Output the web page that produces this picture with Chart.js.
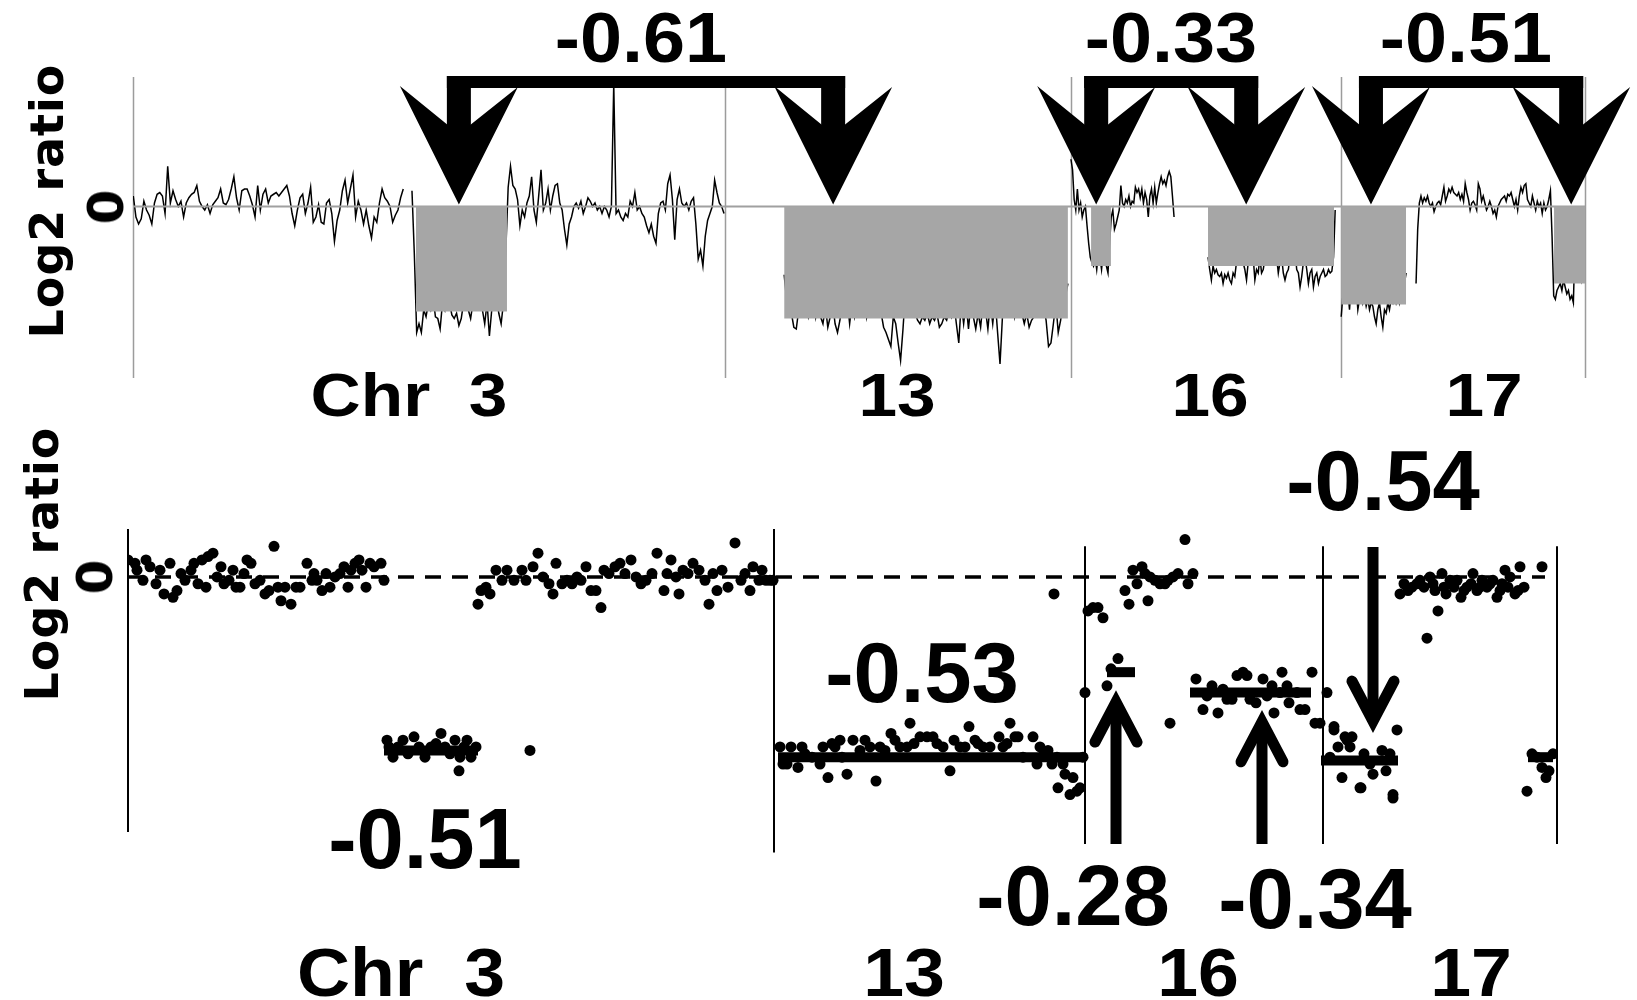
<!DOCTYPE html>
<html>
<head>
<meta charset="utf-8">
<script src="https://cdn.jsdelivr.net/npm/chart.js@4.4.1/dist/chart.umd.min.js"></script>
<style>
  html, body { margin: 0; padding: 0; background: #fff; }
  #page { position: relative; width: 1637px; height: 1000px; overflow: hidden; }
  .box { position: absolute; left: 0; width: 1637px; height: 400px; }
  .lbl {
    position: absolute; color: #000; line-height: 1; white-space: pre;
    font-family: "Liberation Sans", Arial, sans-serif; font-weight: bold;
  }
  .ylab {
    position: absolute; color: #000; line-height: 1; white-space: pre;
    font-family: "DejaVu Sans", Verdana, sans-serif; font-weight: bold;
    transform: translate(-50%, -50%) rotate(-90deg);
  }
</style>
</head>
<body>
<div id="page">
  <div class="box" style="top:0"><canvas id="topChart" width="1637" height="400"></canvas></div>
  <div class="box" style="top:480px"><canvas id="bottomChart" width="1637" height="400"></canvas></div>
</div>

<script>
/* global Chart */

// ---- top panel: smoothed array profile (x in Mb, cumulative) ----
const chrNames = ["Chr  3", "13", "16", "17"];
const topChrBounds = [0, 197, 312, 402, 483];

// continuous pieces of the profile: [start Mb, end Mb]
const chr3pRange = [0.1, 89.9];
const chr3qRange = [92.8, 196.6];
const chr13Range = [216.6, 311.0];
const chr16pRange = [312.0, 346.3];
const chr16qRange = [357.6, 399.9];
const chr17pRange = [401.9, 423.5];
const chr17qRange = [426.8, 482.4];

const chr3pRatios = [0.06,-0.06,-0.10,-0.07,0.03,-0.02,-0.05,-0.10,0.02,0.07,0.08,0.06,-0.04,0.23,0.02,0.09,0.04,0.00,0.03,-0.06,
  0.02,0.05,0.07,0.08,0.12,0.03,0.00,-0.02,0.01,-0.04,0.01,0.03,0.05,0.10,0.02,0.01,0.04,0.10,0.17,0.05,
  -0.02,0.09,0.10,0.10,0.06,0.01,-0.06,0.12,-0.02,0.07,0.10,0.02,0.06,0.07,0.08,0.06,0.08,0.10,0.12,0.06,
  -0.04,-0.11,-0.02,0.05,0.07,-0.04,0.02,0.11,-0.09,-0.06,0.01,-0.09,-0.10,0.02,0.04,-0.04,-0.20,-0.08,-0.02,0.09,
  0.15,0.02,0.10,0.18,-0.06,0.03,-0.02,-0.10,-0.02,-0.11,-0.18,-0.06,-0.09,0.02,0.10,0.05,0.03,0.00,-0.09,-0.05,-0.02,0.05,0.10];

const chr3qRatios = [0.09,-0.27,-0.72,-0.67,-0.72,-0.59,-0.63,-0.55,-0.59,-0.52,-0.63,-0.64,-0.70,-0.55,-0.59,-0.48,-0.55,-0.62,-0.64,-0.61,
  -0.68,-0.64,-0.55,-0.48,-0.59,-0.64,-0.55,-0.55,-0.47,-0.55,-0.59,-0.67,-0.55,-0.74,-0.59,-0.53,-0.51,-0.61,-0.67,-0.55,
  -0.25,0.11,0.23,0.12,0.10,0.04,-0.11,-0.02,-0.06,0.02,0.06,0.17,-0.02,-0.09,0.06,0.21,-0.02,0.02,0.10,-0.02,
  0.06,0.12,0.13,0.02,-0.02,-0.13,-0.22,-0.10,-0.06,0.00,0.02,-0.01,0.03,-0.04,0.00,0.05,0.03,0.00,0.02,-0.02,
  0.00,-0.04,0.00,-0.02,-0.06,0.00,0.70,-0.04,-0.02,-0.06,-0.08,-0.04,-0.06,0.03,0.00,0.08,-0.02,0.00,-0.04,-0.06,
  -0.11,-0.15,-0.10,-0.17,-0.21,-0.04,0.02,0.03,-0.02,0.13,0.18,0.04,-0.19,0.04,0.10,0.02,0.00,0.02,-0.02,0.03,
  0.05,-0.10,-0.30,-0.25,-0.34,-0.17,-0.08,-0.04,0.00,0.15,0.08,0.02,0.00,-0.04];

const chr13Ratios = [-0.39,-0.53,-0.55,-0.61,-0.69,-0.70,-0.59,-0.57,-0.59,-0.55,-0.63,-0.57,-0.53,-0.63,-0.53,-0.63,-0.67,-0.57,-0.69,-0.63,
  -0.55,-0.67,-0.72,-0.65,-0.55,-0.57,-0.53,-0.67,-0.55,-0.63,-0.55,-0.61,-0.55,-0.53,-0.63,-0.53,-0.55,-0.51,-0.59,-0.57,
  -0.61,-0.69,-0.72,-0.76,-0.80,-0.63,-0.67,-0.78,-0.88,-0.70,-0.49,-0.57,-0.55,-0.59,-0.61,-0.65,-0.67,-0.63,-0.65,-0.61,
  -0.67,-0.63,-0.65,-0.61,-0.69,-0.67,-0.63,-0.65,-0.59,-0.63,-0.55,-0.67,-0.78,-0.55,-0.67,-0.55,-0.70,-0.55,-0.63,-0.70,
  -0.61,-0.69,-0.55,-0.59,-0.70,-0.55,-0.67,-0.53,-0.72,-0.90,-0.63,-0.55,-0.53,-0.59,-0.55,-0.63,-0.53,-0.55,-0.61,-0.67,
  -0.61,-0.69,-0.65,-0.63,-0.55,-0.49,-0.53,-0.57,-0.65,-0.80,-0.78,-0.67,-0.55,-0.72,-0.65,-0.55,-0.51,-0.44];

const chr16pRatios = [0.27,0.21,0.04,-0.02,0.10,-0.02,0.02,-0.06,-0.02,0.00,-0.11,-0.21,-0.29,-0.32,-0.34,-0.29,-0.36,-0.27,-0.29,-0.36,
  -0.27,-0.30,-0.34,-0.38,-0.21,-0.06,-0.02,-0.13,-0.10,-0.06,-0.02,0.12,0.02,0.00,0.04,0.02,0.06,0.00,0.03,0.02,
  0.11,0.08,0.10,0.05,0.10,0.02,0.08,0.04,-0.06,0.06,0.10,0.02,0.11,0.02,0.08,0.13,0.17,0.13,0.15,0.12,
  0.17,0.20,0.17,0.06,-0.06];

const chr16qRatios = [-0.29,-0.36,-0.42,-0.34,-0.38,-0.36,-0.39,-0.40,-0.38,-0.44,-0.39,-0.41,-0.38,-0.42,-0.44,-0.38,-0.40,-0.32,-0.29,-0.30,
  -0.26,-0.32,-0.36,-0.42,-0.32,-0.27,-0.17,-0.29,-0.42,-0.36,-0.38,-0.29,-0.38,-0.36,-0.30,-0.25,-0.29,-0.21,-0.23,-0.29,
  -0.23,-0.29,-0.38,-0.32,-0.29,-0.38,-0.42,-0.38,-0.36,-0.29,-0.32,-0.21,-0.25,-0.36,-0.38,-0.46,-0.40,-0.32,-0.29,-0.36,
  -0.44,-0.38,-0.36,-0.46,-0.40,-0.38,-0.44,-0.40,-0.38,-0.36,-0.40,-0.39,-0.36,-0.38,-0.37,-0.29,-0.02];

const chr17pRatios = [-0.63,-0.51,-0.44,-0.53,-0.48,-0.59,-0.44,-0.42,-0.51,-0.46,-0.59,-0.53,-0.48,-0.55,-0.51,-0.57,-0.53,-0.59,-0.55,-0.57,
  -0.63,-0.67,-0.59,-0.55,-0.63,-0.69,-0.59,-0.61,-0.55,-0.59,-0.53,-0.55,-0.50,-0.55,-0.51,-0.55,-0.48,-0.53,-0.44,-0.38];

const chr17qRatios = [-0.44,-0.13,0.02,0.06,0.02,0.05,0.03,0.06,0.02,0.00,0.02,-0.03,0.00,0.02,0.03,0.01,0.06,0.11,0.03,0.06,
  0.10,0.08,0.11,0.08,0.07,0.06,0.08,0.04,0.07,0.03,0.13,0.08,0.04,-0.02,0.02,0.03,0.01,-0.02,0.13,0.10,
  0.03,0.06,0.02,-0.02,0.00,0.03,0.00,-0.04,-0.02,-0.06,0.00,0.02,0.04,0.05,0.06,0.03,0.07,0.06,0.08,0.04,
  0.00,0.04,-0.02,0.06,0.11,0.08,0.12,0.13,0.04,0.02,0.00,0.06,0.02,-0.02,0.03,0.00,0.02,-0.04,0.02,-0.02,
  0.00,0.04,0.09,-0.17,-0.51,-0.53,-0.48,-0.46,-0.44,-0.48,-0.42,-0.46,-0.50,-0.48,-0.53,-0.51,-0.55,-0.21,-0.29,-0.25,
  -0.32,-0.42,-0.38];

// called losses (grey blocks): start Mb, end Mb, mean log2 ratio
const lossStart = [94.1, 216.6, 318.7, 357.6, 401.9, 472.7];
const lossEnd = [124.4, 311.0, 325.3, 399.5, 423.5, 483.0];
const lossLevel = [-0.60, -0.64, -0.34, -0.34, -0.56, -0.44];

// arrow positions (Mb) and bracket labels
const topArrowX = [108.4, 232.9, 320.4, 370.3, 411.8, 478.4];
const topBracketLabels = ["-0.61", "-0.33", "-0.51"];

// ---- bottom panel: individual clones (x = clone position, y = log2 ratio) ----
const bottomChrBounds = [0, 646, 957, 1195, 1429];

const chr3Clones = [[0,0.05],[7,0.04],[9,0.02],[15,-0.01],[18,0.05],[22,0.03],[28,-0.02],[32,0.02],[36,-0.05],[42,0.04],
  [45,-0.06],[49,-0.04],[53,0.01],[57,-0.01],[63,0.02],[66,0.04],[70,-0.02],[74,0.05],[78,-0.03],[80,0.06],
  [85,0.07],[89,0.00],[93,0.03],[96,-0.02],[101,-0.01],[105,0.02],[108,-0.03],[112,-0.03],[116,0.01],[119,0.05],
  [123,0.04],[127,-0.02],[132,-0.01],[137,-0.05],[141,-0.04],[146,0.09],[150,-0.03],[153,-0.07],[157,-0.03],[163,-0.08],
  [168,-0.03],[172,-0.03],[179,0.04],[184,-0.01],[186,0.01],[189,-0.01],[194,-0.04],[198,0.01],[202,-0.03],[207,0.00],
  [212,0.01],[216,0.03],[220,-0.03],[223,0.02],[227,0.04],[231,0.05],[234,0.02],[238,-0.03],[242,0.04],[246,0.03],
  [253,0.04],[256,-0.01],
  [259,-0.48],[261,-0.50],[265,-0.53],[270,-0.50],[275,-0.48],[280,-0.52],[286,-0.47],[291,-0.50],[297,-0.53],[303,-0.50],
  [308,-0.49],[313,-0.46],[317,-0.50],[322,-0.52],[327,-0.48],[331,-0.57],[332,-0.53],[336,-0.50],[339,-0.48],[343,-0.53],
  [348,-0.50],[402,-0.51],
  [350,-0.08],[353,-0.04],[358,-0.03],[362,-0.05],[368,0.02],[374,-0.01],[379,0.02],[386,-0.01],[394,0.02],[398,-0.01],
  [405,0.03],[410,0.07],[415,0.00],[421,-0.02],[425,-0.05],[428,0.04],[434,-0.02],[439,-0.01],[444,-0.02],[449,0.00],
  [453,-0.01],[458,0.03],[463,-0.04],[468,-0.04],[473,-0.09],[476,0.02],[481,0.01],[487,0.03],[492,0.04],[497,0.01],
  [503,0.05],[508,0.00],[513,-0.02],[518,-0.01],[524,0.01],[529,0.07],[536,-0.04],[539,0.01],[543,0.05],[548,0.00],
  [551,-0.05],[555,0.02],[560,0.01],[565,0.04],[571,0.02],[577,-0.01],[581,-0.08],[585,0.01],[589,-0.04],[594,0.02],
  [600,-0.03],[607,0.10],[613,-0.01],[617,0.01],[622,-0.04],[625,0.03],[631,-0.01],[634,0.02],[638,-0.01],[642,-0.01],[645,-0.01]];

const chr13Clones = [[652,-0.50],[655,-0.55],[659,-0.55],[663,-0.50],[670,-0.56],[674,-0.50],[677,-0.52],[684,-0.53],[692,-0.55],[695,-0.50],
  [700,-0.59],[704,-0.49],[707,-0.50],[712,-0.48],[714,-0.53],[719,-0.58],[725,-0.48],[732,-0.51],[737,-0.48],[742,-0.50],
  [748,-0.60],[752,-0.50],[757,-0.51],[763,-0.46],[767,-0.48],[772,-0.50],[779,-0.50],[782,-0.43],[786,-0.49],[792,-0.47],
  [799,-0.47],[805,-0.47],[809,-0.49],[815,-0.50],[822,-0.57],[826,-0.48],[832,-0.50],[837,-0.50],[841,-0.44],[847,-0.48],
  [850,-0.49],[855,-0.50],[862,-0.50],[871,-0.47],[875,-0.50],[879,-0.49],[882,-0.43],[887,-0.47],[890,-0.47],[895,-0.53],
  [905,-0.47],[909,-0.55],[912,-0.50],[916,-0.52],[920,-0.51],[924,-0.55],[926,-0.05],[929,-0.53],[930,-0.62],[935,-0.55],
  [937,-0.58],[942,-0.64],[945,-0.59],[949,-0.63],[952,-0.62],[955,-0.53]];

const chr16Clones = [[957,-0.34],[960,-0.10],[965,-0.09],[970,-0.09],[975,-0.12],[979,-0.32],[983,-0.27],[990,-0.24],[997,-0.04],[1001,-0.08],
  [1005,0.02],[1009,-0.02],[1014,0.03],[1017,0.01],[1020,-0.07],[1022,0.00],[1027,-0.01],[1032,-0.02],[1037,-0.02],[1040,-0.01],
  [1045,0.00],[1050,0.01],[1057,0.11],[1060,-0.02],[1065,0.01],[1042,-0.43],
  [1068,-0.30],[1075,-0.39],[1079,-0.35],[1084,-0.32],[1090,-0.40],[1095,-0.33],[1099,-0.36],[1104,-0.36],[1109,-0.29],[1115,-0.28],
  [1119,-0.29],[1122,-0.36],[1128,-0.37],[1135,-0.30],[1139,-0.35],[1144,-0.32],[1146,-0.40],[1152,-0.34],[1154,-0.28],[1159,-0.32],
  [1161,-0.37],[1169,-0.34],[1172,-0.39],[1177,-0.39],[1184,-0.28],[1187,-0.43],[1192,-0.43]];

const chr17Clones = [[1199,-0.34],[1202,-0.53],[1206,-0.45],[1206,-0.44],[1210,-0.50],[1214,-0.59],[1217,-0.47],[1219,-0.48],[1222,-0.50],[1224,-0.47],
  [1232,-0.62],[1233,-0.62],[1236,-0.52],[1242,-0.55],[1245,-0.58],[1254,-0.51],[1258,-0.57],[1262,-0.52],[1265,-0.64],[1265,-0.65],[1269,-0.45],
  [1272,-0.05],[1276,-0.02],[1280,-0.04],[1284,-0.03],[1289,-0.02],[1292,-0.01],[1296,-0.03],[1299,-0.18],[1302,0.00],[1305,-0.02],
  [1307,-0.04],[1310,-0.10],[1314,0.01],[1316,-0.03],[1318,-0.05],[1322,-0.01],[1326,-0.03],[1329,-0.01],[1333,-0.06],[1336,-0.04],
  [1339,-0.03],[1343,-0.02],[1345,0.01],[1349,-0.04],[1352,-0.03],[1354,-0.01],[1359,-0.03],[1362,-0.02],[1365,-0.01],[1369,-0.06],
  [1372,-0.04],[1374,-0.02],[1377,0.02],[1380,-0.03],[1382,0.00],[1387,-0.05],[1390,-0.04],[1392,0.03],[1396,-0.03],[1414,0.03],
  [1399,-0.63],[1404,-0.52],[1409,-0.53],[1414,-0.56],[1418,-0.59],[1421,-0.57],[1425,-0.52]];

// segmented means: start, end, log2 ratio
const segStart = [256, 650, 979, 1062, 1193, 1400];
const segEnd = [350, 955, 1007, 1183, 1270, 1425];
const segLevel = [-0.51, -0.53, -0.28, -0.34, -0.54, -0.53];

// pointing arrows: x, tail value, tip value
const bottomArrowX = [988, 1134, 1245];
const bottomArrowFrom = [-0.785, -0.785, 0.088];
const bottomArrowTo = [-0.368, -0.426, -0.424];

// spread a piece of probes evenly between its start and end
function piece(range, values) {
  const step = (range[1] - range[0]) / (values.length - 1);
  return values.map((v, i) => ({ x: range[0] + i * step, y: v }));
}

function withGaps(pieces) {
  const out = [];
  pieces.forEach((p, i) => {
    if (i > 0) out.push({ x: p[0].x - 0.01, y: null });
    out.push(...p);
  });
  return out;
}

const profile = withGaps([
  piece(chr3pRange, chr3pRatios),
  piece(chr3qRange, chr3qRatios),
  piece(chr13Range, chr13Ratios),
  piece(chr16pRange, chr16pRatios),
  piece(chr16qRange, chr16qRatios),
  piece(chr17pRange, chr17pRatios),
  piece(chr17qRange, chr17qRatios),
]);

const lossSets = lossStart.map((s, i) => ({
  data: [{ x: s, y: lossLevel[i] }, { x: lossEnd[i], y: lossLevel[i] }],
  borderWidth: 0,
  backgroundColor: "#a6a6a6",
  fill: "origin",
  pointRadius: 0,
}));

const topMarks = {
  id: "topMarks",
  beforeDatasetsDraw(chart) {
    const { ctx, chartArea, scales } = chart;
    ctx.save();
    ctx.strokeStyle = "#9c9c9c";
    ctx.lineWidth = 1.5;
    topChrBounds.forEach((b) => {
      const x = Math.round(scales.x.getPixelForValue(b)) + 0.5;
      ctx.beginPath();
      ctx.moveTo(x, chartArea.top);
      ctx.lineTo(x, chartArea.bottom);
      ctx.stroke();
    });
    ctx.restore();
  },
  afterDatasetsDraw(chart) {
    const { ctx, chartArea, scales } = chart;
    const barTop = chartArea.top - 1;
    const headTop = chartArea.top + 9;
    const notchY = chartArea.top + 57;
    const tipY = scales.y.getPixelForValue(0) - 2;
    const px = topArrowX.map((v) => scales.x.getPixelForValue(v));
    ctx.save();
    ctx.fillStyle = "#000";
    for (let b = 0; b < 3; b++) {
      const l = px[b * 2], r = px[b * 2 + 1];
      ctx.fillRect(l - 12, barTop, r - l + 24, 12);
    }
    px.forEach((cx) => {
      ctx.fillRect(cx - 12, barTop, 24, notchY - barTop);
      ctx.beginPath();
      ctx.moveTo(cx - 59, headTop);
      ctx.lineTo(cx, notchY);
      ctx.lineTo(cx + 59, headTop + 1);
      ctx.lineTo(cx, tipY);
      ctx.closePath();
      ctx.fill();
    });
    ctx.restore();
  },
};

new Chart(document.getElementById("topChart"), {
  type: "line",
  data: {
    datasets: [
      ...lossSets,
      {
        data: [{ x: 0, y: 0 }, { x: 483, y: 0 }],
        borderColor: "#a0a0a0",
        borderWidth: 2,
        pointRadius: 0,
      },
      {
        label: "Log2 ratio",
        data: profile,
        borderColor: "#000",
        borderWidth: 1.5,
        pointRadius: 0,
        spanGaps: false,
      },
    ],
  },
  options: {
    responsive: false,
    animation: false,
    layout: { padding: { left: 133, right: 52, top: 77, bottom: 22 } },
    plugins: { legend: { display: false }, tooltip: { enabled: false } },
    scales: {
      x: { type: "linear", min: 0, max: 483, display: false },
      y: { min: -0.98, max: 0.74, display: false },
    },
  },
  plugins: [topMarks],
});

// ---- bottom chart ----
const sepTop = [0.141, 0.141, 0.09, 0.09, 0.09];
const sepBottom = [-0.75, -0.81, -0.785, -0.785, -0.785];

const bottomMarks = {
  id: "bottomMarks",
  beforeDatasetsDraw(chart) {
    const { ctx, scales } = chart;
    ctx.save();
    ctx.strokeStyle = "#000";
    ctx.lineWidth = 2;
    bottomChrBounds.forEach((b, i) => {
      const x = Math.round(scales.x.getPixelForValue(b));
      ctx.beginPath();
      ctx.moveTo(x, scales.y.getPixelForValue(sepTop[i]));
      ctx.lineTo(x, scales.y.getPixelForValue(sepBottom[i]));
      ctx.stroke();
    });
    ctx.restore();
  },
  afterDatasetsDraw(chart) {
    const { ctx, scales } = chart;
    ctx.save();
    ctx.strokeStyle = "#000";
    ctx.lineWidth = 11;
    ctx.lineJoin = "miter";
    bottomArrowX.forEach((v, i) => {
      const x = scales.x.getPixelForValue(v);
      const y0 = scales.y.getPixelForValue(bottomArrowFrom[i]);
      const y1 = scales.y.getPixelForValue(bottomArrowTo[i]);
      const dir = y1 < y0 ? 1 : -1;
      ctx.lineCap = "butt";
      ctx.beginPath();
      ctx.moveTo(x, y0);
      ctx.lineTo(x, y1 + dir * 4);
      ctx.stroke();
      ctx.lineCap = "round";
      ctx.beginPath();
      ctx.moveTo(x - 21, y1 + dir * 40);
      ctx.lineTo(x, y1);
      ctx.lineTo(x + 21, y1 + dir * 40);
      ctx.stroke();
    });
    ctx.restore();
  },
};

const toPoints = (arr) => arr.map((p) => ({ x: p[0], y: p[1] }));

const segSets = segStart.map((s, i) => ({
  type: "line",
  data: [{ x: s, y: segLevel[i] }, { x: segEnd[i], y: segLevel[i] }],
  borderColor: "#000",
  borderWidth: 10,
  borderCapStyle: "butt",
  pointRadius: 0,
}));

new Chart(document.getElementById("bottomChart"), {
  type: "scatter",
  data: {
    datasets: [
      {
        type: "line",
        data: [{ x: 0, y: 0 }, { x: 1417, y: 0 }],
        borderColor: "#000",
        borderWidth: 3.5,
        borderDash: [16, 11],
        pointRadius: 0,
      },
      {
        label: "Clones",
        data: [chr3Clones, chr13Clones, chr16Clones, chr17Clones].flatMap(toPoints),
        backgroundColor: "#000",
        borderWidth: 0,
        pointRadius: 5.5,
      },
      ...segSets,
    ],
  },
  options: {
    responsive: false,
    animation: false,
    layout: { padding: { left: 128, right: 80, top: 49, bottom: 48 } },
    plugins: { legend: { display: false }, tooltip: { enabled: false } },
    scales: {
      x: { type: "linear", min: 0, max: 1429, display: false },
      y: { min: -0.75, max: 0.141, display: false },
    },
  },
  plugins: [bottomMarks],
});

// ---- text ----
function addLabel(text, cx, cy, size, stretch, cls) {
  const el = document.createElement("div");
  el.className = cls || "lbl";
  el.textContent = text;
  el.style.left = cx + "px";
  el.style.top = cy + "px";
  el.style.fontSize = size + "px";
  if (!cls) el.style.transform = `translate(-50%, -50%) scaleX(${stretch})`;
  document.getElementById("page").appendChild(el);
  return el;
}

const topBracketCx = [641, 1171, 1466];
topBracketLabels.forEach((t, i) => addLabel(t, topBracketCx[i], 38, 70, 1.08));

const topChrCx = [409, 897, 1210, 1484];
const bottomChrCx = [401, 904, 1198, 1471];
chrNames.forEach((n, i) => {
  addLabel(n, topChrCx[i], 395, 62, 1.12);
  addLabel(n, bottomChrCx[i], 972, 68, 1.08);
});

const segLabels = ["-0.51", "-0.53", "-0.28", "-0.34", "-0.54"];
const segLabelPos = [[425, 838], [922, 672], [1073, 895], [1315, 898], [1383, 480]];
segLabels.forEach((t, i) => addLabel(t, segLabelPos[i][0], segLabelPos[i][1], 85, 1));

[[47, 201, 207, 106], [42, 564, 577, 95]].forEach(([lx, ly, zy, zx]) => {
  const a = addLabel("Log2 ratio", lx, ly, 46, 1, "ylab");
  a.style.letterSpacing = "1px";
  addLabel("0", zx, zy, 50, 1, "ylab");
});
</script>
</body>
</html>
